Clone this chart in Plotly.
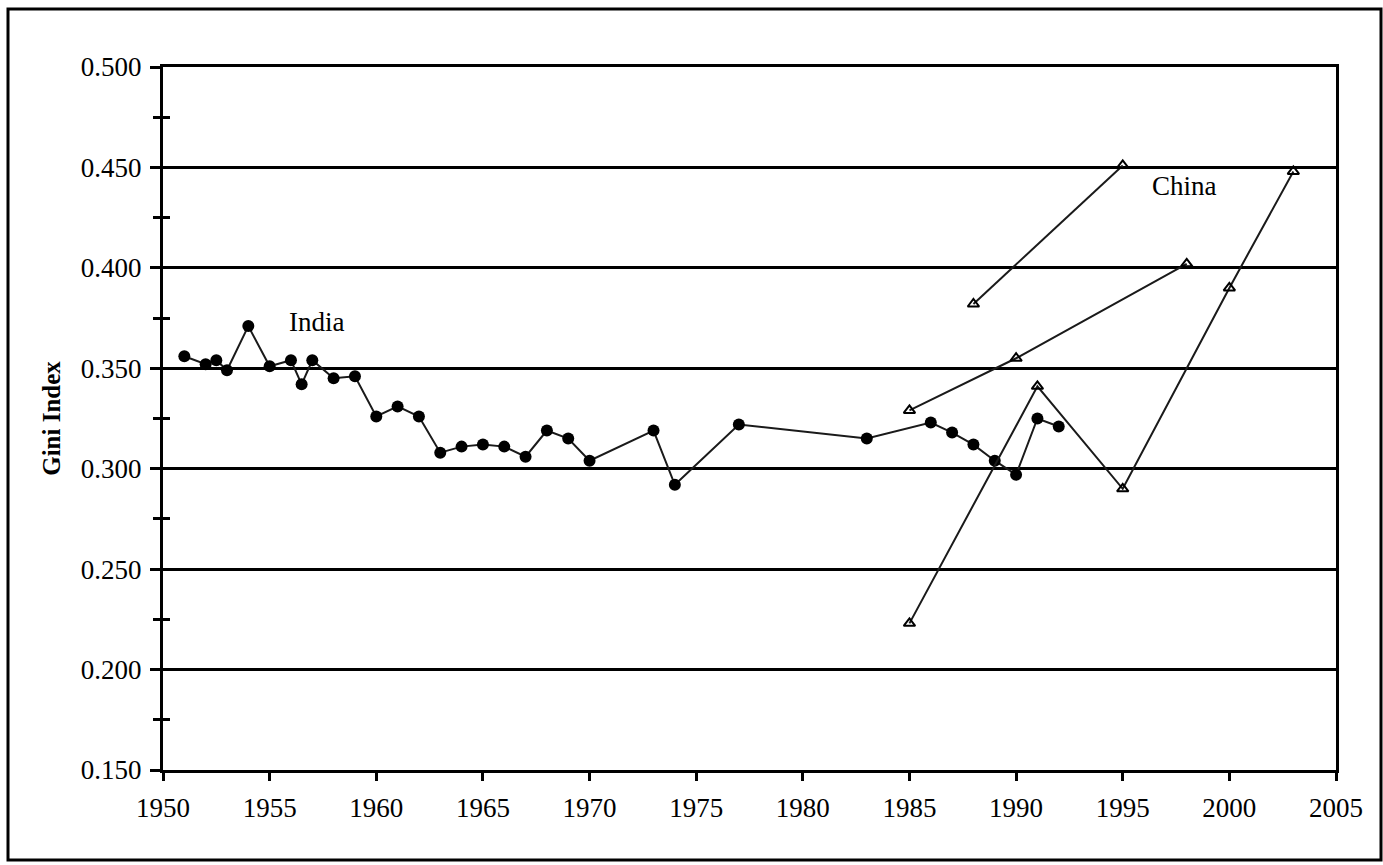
import plotly.graph_objects as go

# ---- data ----
india_years = [1951, 1952, 1952.5, 1953, 1954, 1955, 1956, 1956.5, 1957, 1958, 1959,
               1960, 1961, 1962, 1963, 1964, 1965, 1966, 1967, 1968, 1969, 1970,
               1973, 1974, 1977, 1983, 1986, 1987, 1988, 1989, 1990, 1991, 1992]
india_gini = [0.356, 0.352, 0.354, 0.349, 0.371, 0.351, 0.354, 0.342, 0.354, 0.345, 0.346,
              0.326, 0.331, 0.326, 0.308, 0.311, 0.312, 0.311, 0.306, 0.319, 0.315, 0.304,
              0.319, 0.292, 0.322, 0.315, 0.323, 0.318, 0.312, 0.304, 0.297, 0.325, 0.321]

china_a_years = [1988, 1995]
china_a_gini = [0.382, 0.451]

china_b_years = [1985, 1990, 1998]
china_b_gini = [0.329, 0.355, 0.402]

china_c_years = [1985, 1991, 1995, 2000, 2003]
china_c_gini = [0.223, 0.341, 0.290, 0.390, 0.448]

x_ticks = [1950, 1955, 1960, 1965, 1970, 1975, 1980, 1985, 1990, 1995, 2000, 2005]
y_ticks = [0.150, 0.200, 0.250, 0.300, 0.350, 0.400, 0.450, 0.500]
y_minor = [0.175, 0.225, 0.275, 0.325, 0.375, 0.425, 0.475]

FONT = "Liberation Serif"
LINE = "#1a1a1a"

fig = go.Figure()

fig.add_trace(go.Scatter(
    x=india_years, y=india_gini, mode="lines+markers",
    line=dict(color=LINE, width=2),
    marker=dict(symbol="circle", size=12, color="black"),
    name="India", showlegend=False))

for xs, ys, nm in [(china_a_years, china_a_gini, "China A"),
                   (china_b_years, china_b_gini, "China B"),
                   (china_c_years, china_c_gini, "China C")]:
    fig.add_trace(go.Scatter(
        x=xs, y=ys, mode="lines+markers",
        line=dict(color=LINE, width=2),
        marker=dict(symbol="triangle-up-open", size=10, color="black",
                    line=dict(width=2, color="black")),
        name=nm, showlegend=False))

# invisible trace on overlay axis to hold inside minor ticks
fig.add_trace(go.Scatter(x=[1950], y=[0.15], yaxis="y2", mode="markers",
                         marker=dict(opacity=0), showlegend=False, hoverinfo="skip"))

fig.add_annotation(x=1957.2, y=0.373, text="India", showarrow=False,
                   font=dict(family=FONT, size=27, color="black"))
fig.add_annotation(x=1997.9, y=0.441, text="China", showarrow=False,
                   font=dict(family=FONT, size=27, color="black"))

# outer frame
W, H = 1383, 865
L, R, T, B = 163, 1336, 67, 770
pw, ph = R - L, B - T
def px(x):
    return (x - L) / pw
def py(y):
    return (B - y) / ph
fig.add_shape(type="rect", xref="paper", yref="paper",
              x0=px(8), x1=px(1381), y0=py(860), y1=py(9),
              line=dict(color="black", width=3), fillcolor="rgba(0,0,0,0)")

fig.update_layout(
    width=W, height=H,
    margin=dict(l=L, r=W - R, t=T, b=H - B),
    paper_bgcolor="white", plot_bgcolor="white",
    font=dict(family=FONT, size=27, color="black"),
    xaxis=dict(range=[1950, 2005], tickvals=x_ticks,
               ticktext=[str(v) for v in x_ticks],
               showgrid=False, zeroline=False,
               showline=True, linecolor="black", linewidth=3, mirror=True,
               ticks="outside", ticklen=8, tickwidth=3, tickcolor="black",
               ticklabelstandoff=4,
               tickfont=dict(family=FONT, size=27, color="black")),
    yaxis=dict(range=[0.15, 0.5], tickvals=y_ticks,
               ticktext=[f"{v:.3f}" for v in y_ticks],
               showgrid=True, gridcolor="black", gridwidth=3, zeroline=False,
               showline=True, linecolor="black", linewidth=3, mirror=True,
               ticks="outside", ticklen=10, tickwidth=3, tickcolor="black",
               ticklabelstandoff=3,
               minor=dict(tickvals=y_minor, ticks="outside", ticklen=7,
                          tickwidth=3, tickcolor="black", showgrid=False),
               tickfont=dict(family=FONT, size=27, color="black"),
               title=dict(text="<b>Gini Index</b>", standoff=14,
                          font=dict(family=FONT, size=25, color="black"))),
    yaxis2=dict(range=[0.15, 0.5], overlaying="y", side="left",
                tickvals=y_minor, ticks="inside", ticklen=7, tickwidth=3,
                tickcolor="black", showticklabels=False, showgrid=False,
                zeroline=False, showline=False),
    showlegend=False,
)

fig.write_html("out.html", config={"displayModeBar": False},
               post_script="document.body.style.margin='0px';document.body.style.overflow='hidden';")
